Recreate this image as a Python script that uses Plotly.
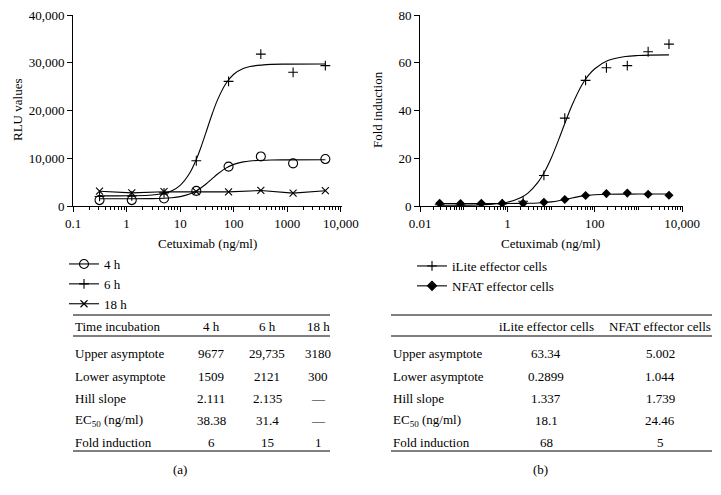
import plotly.graph_objects as go

FONT = "Liberation Serif"
# The page body keeps the browser's default 8px margin, so the figure is drawn
# 8px in from the top-left corner of the 721x495 window.
OFF = 8
W, H = 721 - 2 * OFF, 495 - 2 * OFF

# ---------------- Panel (a) data ----------------
conc_a = [0.3125, 1.25, 5, 20, 80, 320, 1280, 5120]
rlu_4h = [1240, 1240, 1580, 3160, 8250, 10380, 8930, 9830]
rlu_6h = [2000, 2100, 2750, 9480, 26100, 31800, 28000, 29400]
rlu_18h = [3100, 2750, 3000, 3000, 2950, 3250, 2700, 3200]

fit_x_a = [0.3125, 1.25, 3, 5, 7, 10, 15, 20, 25, 30, 40, 50, 70, 100, 150, 200, 500, 1000, 5120]
fit_4h = [1509, 1515, 1547, 1618, 1728, 1960, 2497, 3156, 3870, 4554, 5771, 6704, 7885, 8721, 9242, 9434, 9641, 9669, 9677]
fit_6h = [2121, 2149, 2304, 2656, 3199, 4330, 6849, 9749, 12632, 15258, 19423, 22277, 25511, 27588, 28788, 29215, 29660, 29718, 29735]

xtick_vals_a = [0.1, 1, 10, 100, 1000, 10000]
xtick_text_a = ["0.1", "1", "10", "100", "1000", "10,000"]
ytick_vals_a = [0, 10000, 20000, 30000, 40000]
ytick_text_a = ["0", "10,000", "20,000", "30,000", "40,000"]

legend_a = ["4 h", "6 h", "18 h"]
table_a_header = ["Time incubation", "4 h", "6 h", "18 h"]
row_labels = ["Upper asymptote", "Lower asymptote", "Hill slope", "EC<sub>50</sub> (ng/ml)", "Fold induction"]
vals_4h = ["9677", "1509", "2.111", "38.38", "6"]
vals_6h = ["29,735", "2121", "2.135", "31.4", "15"]
vals_18h = ["3180", "300", "\u2014", "\u2014", "1"]

# ---------------- Panel (b) data ----------------
conc_b = [0.0282, 0.0847, 0.254, 0.762, 2.29, 6.86, 20.6, 61.7, 185, 556, 1667, 5000]
fold_ilite = [0.5, 0.4, 0.6, 0.9, 2.0, 12.8, 36.8, 52.6, 57.9, 58.8, 64.6, 67.8]
fold_nfat = [1.1, 1.0, 1.1, 1.1, 1.1, 1.6, 2.75, 4.4, 5.2, 5.4, 4.95, 4.5]

fit_x_b = [0.0282, 0.1, 0.3, 1, 2, 3, 5, 7, 10, 15, 20, 30, 50, 70, 100, 200, 500, 1000, 5000]
fit_ilite = [0.30, 0.35, 0.55, 1.58, 3.44, 5.52, 9.87, 14.1, 19.9, 27.9, 33.9, 42.1, 50.5, 54.5, 57.5, 60.9, 62.6, 63.05, 63.31]
fit_nfat = [1.044, 1.044, 1.045, 1.06, 1.094, 1.14, 1.28, 1.45, 1.73, 2.23, 2.68, 3.37, 4.12, 4.45, 4.69, 4.90, 4.98, 4.996, 5.0]

xtick_vals_b = [0.01, 1, 100, 10000]
xtick_text_b = ["0.01", "1", "100", "10,000"]
ytick_vals_b = [0, 20, 40, 60, 80]

legend_b = ["iLite effector cells", "NFAT effector cells"]
table_b_header = ["iLite effector cells", "NFAT effector cells"]
vals_ilite = ["63.34", "0.2899", "1.337", "18.1", "68"]
vals_nfat = ["5.002", "1.044", "1.739", "24.46", "5"]


def px(x):
    return (x - OFF) / W


def py(y):
    return 1 - (y - OFF) / H


def minor_vals(lo, hi):
    out = []
    for d in range(lo, hi):
        for k in range(1, 10):
            out.append(k * 10 ** d)
    return out


fig = go.Figure()
LW = 1.1
MARK_LINE = dict(color="black", width=1.1)

# ---- panel a traces
fig.add_trace(go.Scatter(x=fit_x_a, y=fit_4h, mode="lines", line=dict(color="black", width=LW, shape="spline"),
                         showlegend=False, xaxis="x", yaxis="y"))
fig.add_trace(go.Scatter(x=fit_x_a, y=fit_6h, mode="lines", line=dict(color="black", width=LW, shape="spline"),
                         showlegend=False, xaxis="x", yaxis="y"))
fig.add_trace(go.Scatter(x=conc_a, y=rlu_18h, mode="lines+markers", line=dict(color="black", width=LW),
                         marker=dict(symbol="x-thin-open", size=7, color="black", line=MARK_LINE),
                         showlegend=False, xaxis="x", yaxis="y"))
fig.add_trace(go.Scatter(x=conc_a, y=rlu_4h, mode="markers",
                         marker=dict(symbol="circle-open", size=9, color="black", line=MARK_LINE),
                         showlegend=False, xaxis="x", yaxis="y"))
fig.add_trace(go.Scatter(x=conc_a, y=rlu_6h, mode="markers",
                         marker=dict(symbol="cross-thin-open", size=7, color="black", line=MARK_LINE),
                         showlegend=False, xaxis="x", yaxis="y"))

for name, sym, sz in zip(legend_a, ["circle-open", "cross-thin-open", "x-thin-open"], [9, 7, 7]):
    fig.add_trace(go.Scatter(x=[None], y=[None], name=name, mode="lines+markers",
                             line=dict(color="black", width=LW),
                             marker=dict(symbol=sym, size=sz, color="black", line=MARK_LINE),
                             legend="legend", xaxis="x", yaxis="y"))

# ---- panel b traces
fig.add_trace(go.Scatter(x=fit_x_b, y=fit_ilite, mode="lines", line=dict(color="black", width=LW, shape="spline"),
                         showlegend=False, xaxis="x2", yaxis="y2"))
fig.add_trace(go.Scatter(x=fit_x_b, y=fit_nfat, mode="lines", line=dict(color="black", width=LW, shape="spline"),
                         showlegend=False, xaxis="x2", yaxis="y2"))
fig.add_trace(go.Scatter(x=conc_b, y=fold_ilite, mode="markers",
                         marker=dict(symbol="cross-thin-open", size=7, color="black", line=MARK_LINE),
                         showlegend=False, xaxis="x2", yaxis="y2"))
fig.add_trace(go.Scatter(x=conc_b, y=fold_nfat, mode="markers",
                         marker=dict(symbol="diamond", size=7, color="black"),
                         showlegend=False, xaxis="x2", yaxis="y2"))

for name, sym, sz in zip(legend_b, ["cross-thin-open", "diamond"], [7, 7]):
    fig.add_trace(go.Scatter(x=[None], y=[None], name=name, mode="lines+markers",
                             line=dict(color="black", width=LW),
                             marker=dict(symbol=sym, size=sz, color="black", line=MARK_LINE),
                             legend="legend2", xaxis="x2", yaxis="y2"))

tickfont = dict(family=FONT, size=13, color="black")
common_x = dict(type="log", showgrid=False, zeroline=False, showline=True, linecolor="black", linewidth=1,
                ticks="outside", ticklen=5, tickwidth=1, tickcolor="black", tickfont=tickfont,
                tickmode="array", automargin=False, ticklabeloverflow="allow")
common_y = dict(showgrid=False, zeroline=False, showline=True, linecolor="black", linewidth=1,
                ticks="outside", ticklen=5, tickwidth=1, tickcolor="black", tickfont=tickfont,
                tickmode="array", automargin=False, ticklabeloverflow="allow")

PLOT_TOP, PLOT_BOTTOM = 15, 206

fig.update_layout(
    template="none",
    width=W, height=H, margin=dict(l=0, r=0, t=0, b=0, pad=0), autosize=False,
    paper_bgcolor="white", plot_bgcolor="white",
    font=dict(family=FONT, size=13, color="black"),
    xaxis=dict(domain=[px(73), px(342)], range=[-1, 4.02], tickvals=xtick_vals_a, ticktext=xtick_text_a,
               minor=dict(tickmode="array", tickvals=minor_vals(-1, 4), ticks="outside", ticklen=3,
                          tickcolor="black", tickwidth=1), anchor="y", **common_x),
    yaxis=dict(domain=[py(PLOT_BOTTOM), py(PLOT_TOP)], range=[0, 40000], tickvals=ytick_vals_a,
               ticktext=ytick_text_a, anchor="x", **common_y),
    xaxis2=dict(domain=[px(420), px(683)], range=[-2, 4.02], tickvals=xtick_vals_b, ticktext=xtick_text_b,
                minor=dict(tickmode="array", tickvals=minor_vals(-2, 4), ticks="outside", ticklen=3,
                           tickcolor="black", tickwidth=1), anchor="y2", **common_x),
    yaxis2=dict(domain=[py(PLOT_BOTTOM), py(PLOT_TOP)], range=[0, 80], tickvals=ytick_vals_b,
                ticktext=[str(v) for v in ytick_vals_b], anchor="x2", **common_y),
    legend=dict(x=px(64), y=py(249), xanchor="left", yanchor="top", bgcolor="rgba(0,0,0,0)",
                font=dict(family=FONT, size=13, color="black"), tracegroupgap=0, itemwidth=30,
                borderwidth=0),
    legend2=dict(x=px(412), y=py(251), xanchor="left", yanchor="top", bgcolor="rgba(0,0,0,0)",
                 font=dict(family=FONT, size=13, color="black"), tracegroupgap=0, itemwidth=30,
                 borderwidth=0),
    showlegend=True,
)

ann = []


def text(x, y, s, anchor="center", size=13, angle=0):
    ann.append(dict(x=px(x), y=py(y), xref="paper", yref="paper", text=s, showarrow=False,
                    xanchor=anchor, yanchor="middle", textangle=angle, borderpad=0,
                    font=dict(family=FONT, size=size, color="black")))


text(207, 243, "Cetuximab (ng/ml)")
text(550, 243, "Cetuximab (ng/ml)")
text(18, 110, "RLU values", angle=-90)
text(378, 110, "Fold induction", angle=-90)

row_y = [353, 376, 398, 420, 442]

text(74, 326, table_a_header[0], anchor="left")
for cx, h in zip([211, 267, 318], table_a_header[1:]):
    text(cx, 326, h)
for i, lab in enumerate(row_labels):
    text(74, row_y[i], lab, anchor="left")
    text(211, row_y[i], vals_4h[i])
    text(267, row_y[i], vals_6h[i])
    text(318, row_y[i], vals_18h[i])

for cx, h in zip([546, 660], table_b_header):
    text(cx, 326, h)
for i, lab in enumerate(row_labels):
    text(392, row_y[i], lab, anchor="left")
    text(546, row_y[i], vals_ilite[i])
    text(660, row_y[i], vals_nfat[i])

text(180, 469, "(a)")
text(540, 469, "(b)")

shapes = []
for (x0, x1, ys) in [(73, 330, [315, 336, 451]), (391, 712, [315, 336, 451])]:
    for yy in ys:
        shapes.append(dict(type="line", xref="paper", yref="paper", x0=px(x0), x1=px(x1), y0=py(yy), y1=py(yy),
                           line=dict(color="black", width=1.2)))

fig.update_layout(annotations=ann, shapes=shapes)

fig.write_html("out.html")
